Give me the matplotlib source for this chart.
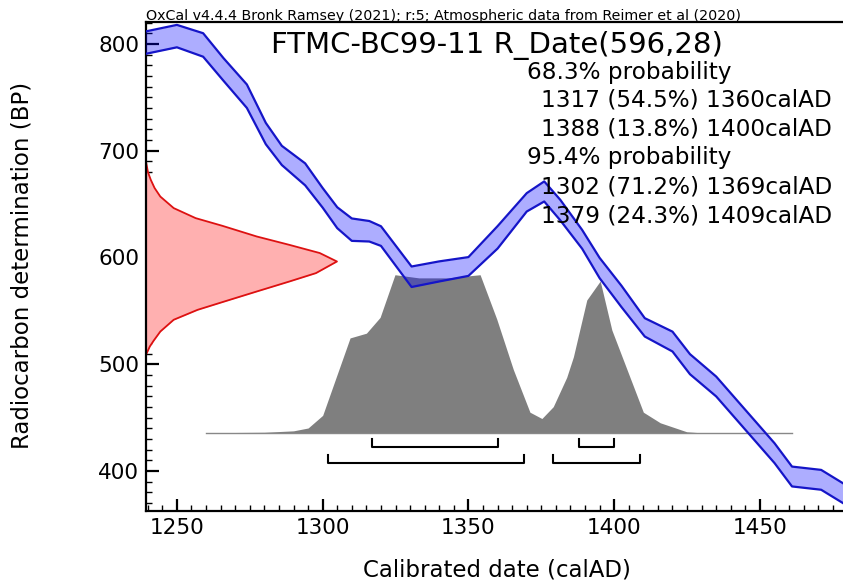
import matplotlib
matplotlib.use("Agg")
import matplotlib.pyplot as plt
from matplotlib.ticker import MultipleLocator

# calibration curve (IntCal20 band)
cal_year = [1239, 1250, 1259, 1266, 1274, 1280.5, 1286, 1294, 1300, 1305, 1310, 1316, 1320,
            1330.5, 1340, 1350, 1360, 1370, 1376, 1381.5, 1389, 1395, 1402.5, 1410.5, 1420,
            1426, 1435, 1444, 1455, 1461, 1471, 1481]
cal_bp = [801, 807.3, 799, 776, 751, 716, 695.5, 677.8, 655.8, 637.2, 626, 624.5, 620,
          581.9, 586.9, 591.5, 618.8, 651.6, 661.8, 644.4, 617, 590.1, 563.5, 534.5, 521.2,
          500, 479.1, 451, 416.7, 394.8, 391.7, 375]
cal_err = [10.5, 10.5, 11, 10.6, 11, 10, 9, 10.3, 9.2, 9.8, 10.5, 9.6, 9.2,
           9.6, 9.4, 8.8, 10.5, 8.6, 9.4, 9.6, 8.8, 9.5, 10, 8.6, 9.3,
           9.4, 9.3, 9.3, 9.3, 9.3, 9.3, 9.3]

# radiocarbon date 596 +/- 28, relative density
rd_bp = [689.8, 680, 672.7, 665, 657.0, 646.2, 636.8, 629.6, 619.6, 611.8, 604.1, 596.2,
         585.3, 577.4, 568.1, 558.7, 550.9, 541.6, 530.6, 522, 516.6, 508.8]
rd_dens = [0.0, 0.01, 0.025, 0.045, 0.075, 0.145, 0.26, 0.40, 0.58, 0.75, 0.91, 1.0,
           0.89, 0.75, 0.58, 0.41, 0.27, 0.145, 0.075, 0.04, 0.02, 0.0]

# calibrated probability (relative)
post_year = [1260, 1280, 1290, 1295, 1300, 1309.4, 1315, 1319.7, 1324.8, 1333, 1343, 1354,
             1359.7, 1365.4, 1371.1, 1375.2, 1379.1, 1383.7, 1386, 1390.6, 1395.2, 1399.2,
             1410, 1415.8, 1424.9, 1429.5, 1461]
post_prob = [0, 0.003, 0.012, 0.03, 0.11, 0.60, 0.63, 0.73, 1.0, 0.98, 0.98, 1.0,
             0.72, 0.40, 0.13, 0.09, 0.165, 0.35, 0.48, 0.84, 0.96, 0.65,
             0.13, 0.063, 0.006, 0, 0]

# ranges
r68 = [(1317, 1360), (1388, 1400)]
r95 = [(1302, 1369), (1379, 1409)]

title = "FTMC-BC99-11 R_Date(596,28)"
info = ["68.3% probability", "1317 (54.5%) 1360calAD", "1388 (13.8%) 1400calAD",
        "95.4% probability", "1302 (71.2%) 1369calAD", "1379 (24.3%) 1409calAD"]
header = "OxCal v4.4.4 Bronk Ramsey (2021); r:5; Atmospheric data from Reimer et al (2020)"

W, H = 843, 585
fig = plt.figure(figsize=(W / 100, H / 100), dpi=100)
ax = fig.add_axes([146 / W, 1 - 511 / H, (847.4 - 146) / W, (511 - 22) / H])
x0, x1 = 1239.4, 1480
ax.set_xlim(x0, x1)
ax.set_ylim(362.5, 820.5)

# gray posterior
base = 435.8
scale = 148
top = [base + p * scale for p in post_prob]
ax.fill_between(post_year, base, top, color="#7f7f7f", lw=0, zorder=2)
ax.plot([post_year[0], post_year[-1]], [base, base], color="#888888", lw=1, zorder=2)

# red radiocarbon date
rd_x = [x0 + d * 65.5 for d in rd_dens]
ax.fill_betweenx(rd_bp, x0, rd_x, color="#ffb0b0", lw=0, zorder=2)
ax.plot(rd_x, rd_bp, color="#dd1111", lw=1.3, zorder=2)

# calibration curve
up = [c + e for c, e in zip(cal_bp, cal_err)]
lo = [c - e for c, e in zip(cal_bp, cal_err)]
ax.fill_between(cal_year, lo, up, color="blue", alpha=0.32, lw=0, zorder=3)
ax.plot(cal_year, up, color="#1515c8", lw=1.6, zorder=3)
ax.plot(cal_year, lo, color="#1515c8", lw=1.6, zorder=3)

# range brackets
for rng, yb in ((r68, 422.7), (r95, 407.7)):
    for a, b in rng:
        ax.plot([a, a, b, b], [yb + 7, yb, yb, yb + 7], color="black", lw=1.5, zorder=4)

# axes style
for s in ("left", "bottom", "top"):
    ax.spines[s].set_linewidth(1.6)
ax.spines["right"].set_visible(False)
ax.xaxis.set_major_locator(MultipleLocator(50))
ax.xaxis.set_minor_locator(MultipleLocator(5))
ax.yaxis.set_major_locator(MultipleLocator(100))
ax.yaxis.set_minor_locator(MultipleLocator(10))
ax.tick_params(which="major", direction="in", length=9, width=1.6, labelsize=15.5, pad=5)
ax.tick_params(which="minor", direction="in", length=4.5, width=1)
ax.set_xlabel("Calibrated date (calAD)", fontsize=16.5, va="center")
ax.set_ylabel("Radiocarbon determination (BP)", fontsize=16.5, va="center")
ax.xaxis.set_label_coords((497 - 146) / 701.4, (511 - 570) / 489)
ax.yaxis.set_label_coords((22 - 146) / 701.4, (511 - 265) / 489)

# texts
fig.text(146 / W, 1 - 16 / H, header, fontsize=10.3, va="center", ha="left")
fig.text(497 / W, 1 - 45 / H, title, fontsize=21, va="center", ha="center", zorder=1)
ys = [72, 100, 129, 158, 187, 216]
for s, y in zip(info, ys):
    if "probability" in s:
        fig.text(527 / W, 1 - y / H, s, fontsize=16.7, va="center", ha="left", zorder=1)
    else:
        fig.text(832 / W, 1 - y / H, s, fontsize=16.7, va="center", ha="right", zorder=1)

fig.savefig("out.png", dpi=100)
